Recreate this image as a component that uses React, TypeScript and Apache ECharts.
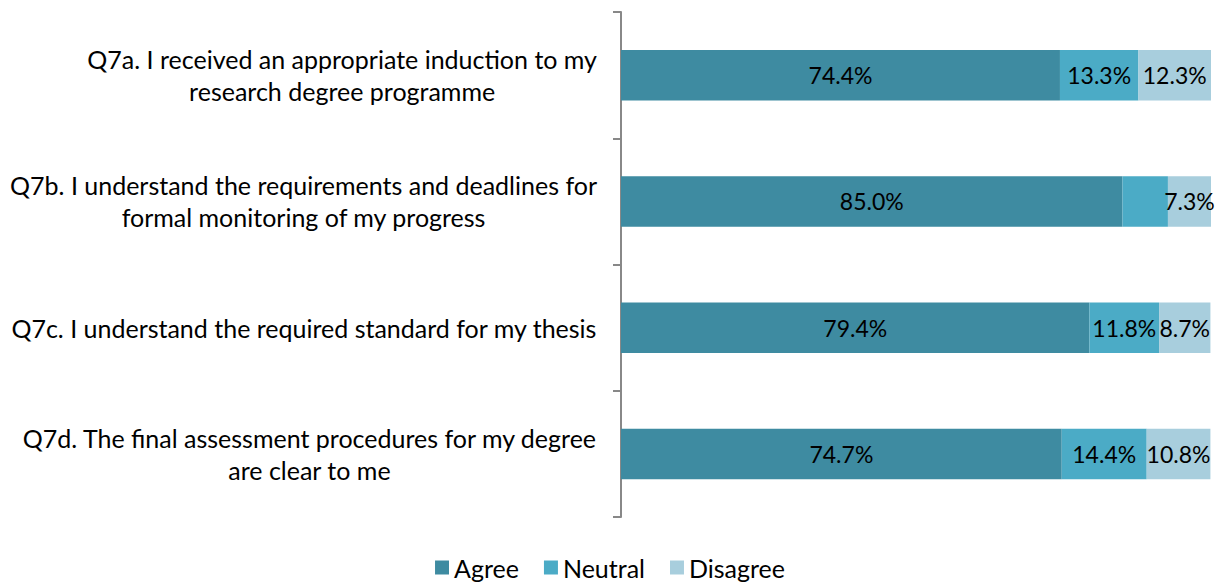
import React, { useEffect, useRef } from "react";
import * as echarts from "echarts";

const categories = [
  "Q7a. I received an appropriate induction to my\nresearch degree programme",
  "Q7b. I understand the requirements and deadlines for\nformal monitoring of my progress",
  "Q7c. I understand the required standard for my thesis",
  "Q7d. The final assessment procedures for my degree\nare clear to me",
];
const seriesNames = ["Agree", "Neutral", "Disagree"];
const agree = [74.4, 85.0, 79.4, 74.7];
const neutral = [13.3, 7.7, 11.8, 14.4];
const disagree = [12.3, 7.3, 8.7, 10.8];
const showLabel = [
  [true, true, true, true],
  [true, false, true, true],
  [true, true, true, true],
];
const colors = ["#3E8BA1", "#4BABC6", "#A8CEDD"];

const FONT = "Lato, 'Open Sans', sans-serif";

export default function App() {
  const ref = useRef<HTMLDivElement>(null);
  useEffect(() => {
    if (!ref.current) return;
    const chart = echarts.init(ref.current, undefined, { renderer: "svg" });
    const values = [agree, neutral, disagree];
    const cats = [...categories].reverse();
    const series = seriesNames.map((name, si) => ({
      name,
      type: "bar",
      stack: "total",
      barWidth: "40%",
      itemStyle: { color: colors[si] },
      label: {
        show: true,
        position: "inside",
        color: "#000",
        fontFamily: FONT,
        fontSize: 23,
        formatter: (p: any) => p.value.toFixed(1) + "%",
      },
      data: [...values[si]]
        .map((v, i) => ({
          value: v,
          label: { show: showLabel[si][i] },
        }))
        .reverse(),
    }));
    chart.setOption({
      animation: false,
      grid: { left: 621, right: 9, top: 12, bottom: 68 },
      legend: {
        top: 550,
        left: "center",
        padding: [5, 5, 0, 5],
        itemWidth: 14,
        itemHeight: 14,
        itemGap: 25,
        icon: "rect",
        textStyle: { fontFamily: FONT, fontSize: 25, color: "#000" },
        data: seriesNames,
      },
      xAxis: {
        type: "value",
        min: 0,
        max: 100,
        show: false,
      },
      yAxis: {
        type: "category",
        data: cats,
        axisLine: { show: true, lineStyle: { color: "#888", width: 2 } },
        axisTick: { show: true, length: 8, lineStyle: { color: "#888", width: 2 } },
        axisLabel: {
          margin: 24,
          align: "right",
          fontFamily: FONT,
          fontSize: 25,
          color: "#000",
          lineHeight: 32,
          formatter: (v: string) =>
            v
              .split("\n")
              .map((l) => "{c|" + l + "}")
              .join("\n"),
          rich: {
            c: {
              align: "center",
              fontFamily: FONT,
              fontSize: 25,
              color: "#000",
              lineHeight: 32,
            },
          },
        },
        splitLine: { show: false },
      },
      series,
    });
    return () => chart.dispose();
  }, []);
  return (
    <div
      ref={ref}
      style={{ position: "absolute", left: 0, top: 0, width: 1220, height: 585 }}
    />
  );
}
